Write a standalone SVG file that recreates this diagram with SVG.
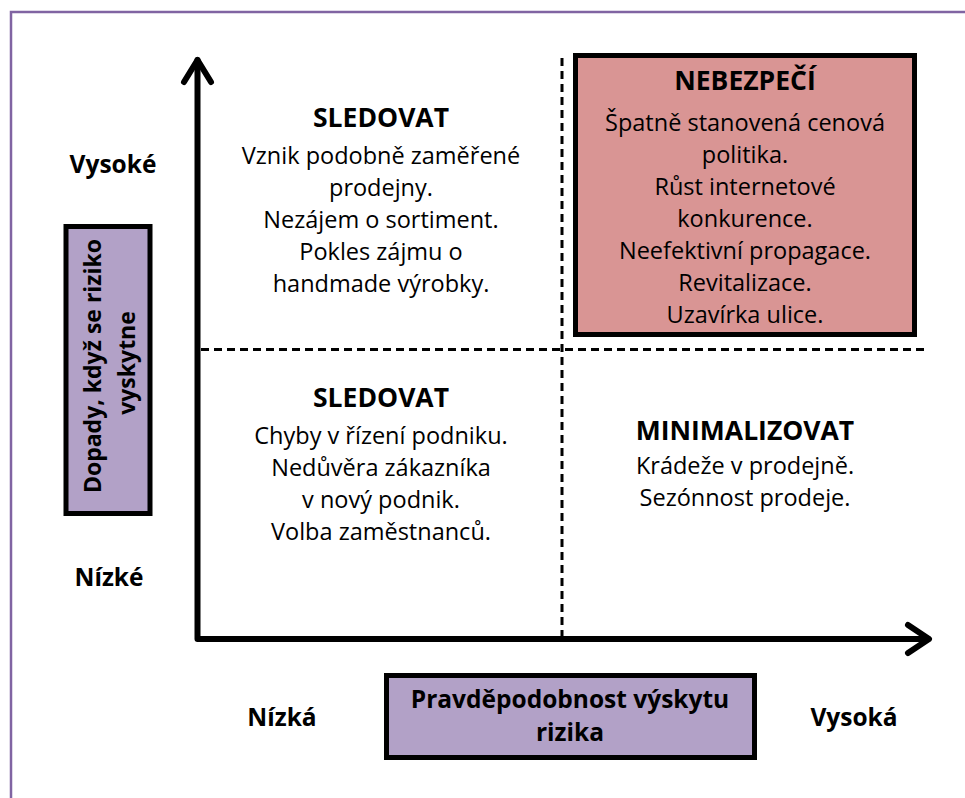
<svg xmlns="http://www.w3.org/2000/svg" width="965" height="798" viewBox="0 0 965 798">
<style>
text{font-family:"Open Sans","Noto Sans","Liberation Sans",sans-serif;fill:#000;}
.b{font-weight:bold;font-size:24.5px;}
.r{font-weight:bold;font-size:23px;}
.t{font-size:23.5px;}
.h{font-weight:bold;font-size:26.5px;}
.m{text-anchor:middle;}
.axis{stroke:#000;stroke-width:6;fill:none;stroke-linecap:round;stroke-linejoin:round;}
.dash{stroke:#000;stroke-width:3;fill:none;stroke-dasharray:8 5;}
.box{stroke:#000;stroke-width:5;}
</style>
<rect x="0" y="0" width="965" height="798" fill="#fff"/>
<path d="M11 798 V12 H965" fill="none" stroke="#8064A2" stroke-width="2.5"/>
<g id="connectors">
<line class="dash" x1="562" y1="58" x2="562" y2="636"/>
<line class="dash" x1="201" y1="349.5" x2="924" y2="349.5"/>
<path class="axis" d="M197.5 60 V639 H928"/>
<path class="axis" d="M184 82 L197.5 60 L211 82"/>
<path class="axis" d="M908 625 L929 639 L908 653"/>
</g>
<g id="danger">
<rect class="box" x="575.5" y="55.5" width="339" height="279" fill="#D99594"/>
<text class="h m" x="745" y="90">NEBEZPEČÍ</text>
<text class="t m" x="745" y="131">Špatně stanovená cenová</text>
<text class="t m" x="745" y="163">politika.</text>
<text class="t m" x="745" y="195">Růst internetové</text>
<text class="t m" x="745" y="227">konkurence.</text>
<text class="t m" x="745" y="259">Neefektivní propagace.</text>
<text class="t m" x="745" y="291">Revitalizace.</text>
<text class="t m" x="745" y="323">Uzavírka ulice.</text>
</g>
<g id="sledovat-top">
<text class="h m" x="381" y="127">SLEDOVAT</text>
<text class="t m" x="381" y="164">Vznik podobně zaměřené</text>
<text class="t m" x="381" y="196">prodejny.</text>
<text class="t m" x="381" y="228">Nezájem o sortiment.</text>
<text class="t m" x="381" y="260">Pokles zájmu o</text>
<text class="t m" x="381" y="292">handmade výrobky.</text>
</g>
<g id="sledovat-bottom">
<text class="h m" x="381" y="407">SLEDOVAT</text>
<text class="t m" x="381" y="444">Chyby v řízení podniku.</text>
<text class="t m" x="381" y="476">Nedůvěra zákazníka</text>
<text class="t m" x="381" y="508">v nový podnik.</text>
<text class="t m" x="381" y="540">Volba zaměstnanců.</text>
</g>
<g id="minimalizovat">
<text class="h m" x="745" y="440">MINIMALIZOVAT</text>
<text class="t m" x="745" y="474">Krádeže v prodejně.</text>
<text class="t m" x="745" y="506">Sezónnost prodeje.</text>
</g>
<g id="y-label">
<rect class="box" x="66" y="226.5" width="84" height="287" fill="#B2A1C7"/>
<text class="r m" transform="translate(101 366) rotate(-90)">Dopady, když se riziko</text>
<text class="r m" transform="translate(135 363) rotate(-90)">vyskytne</text>
</g>
<g id="x-label">
<rect class="box" x="386.5" y="675.5" width="368" height="82" fill="#B2A1C7"/>
<text class="b m" x="570" y="708">Pravděpodobnost výskytu</text>
<text class="b m" x="570" y="741">rizika</text>
</g>
<g id="ticks">
<text class="b m" x="113" y="173">Vysoké</text>
<text class="b m" x="109" y="586">Nízké</text>
<text class="b m" x="282" y="726">Nízká</text>
<text class="b m" x="854" y="726">Vysoká</text>
</g>
</svg>
